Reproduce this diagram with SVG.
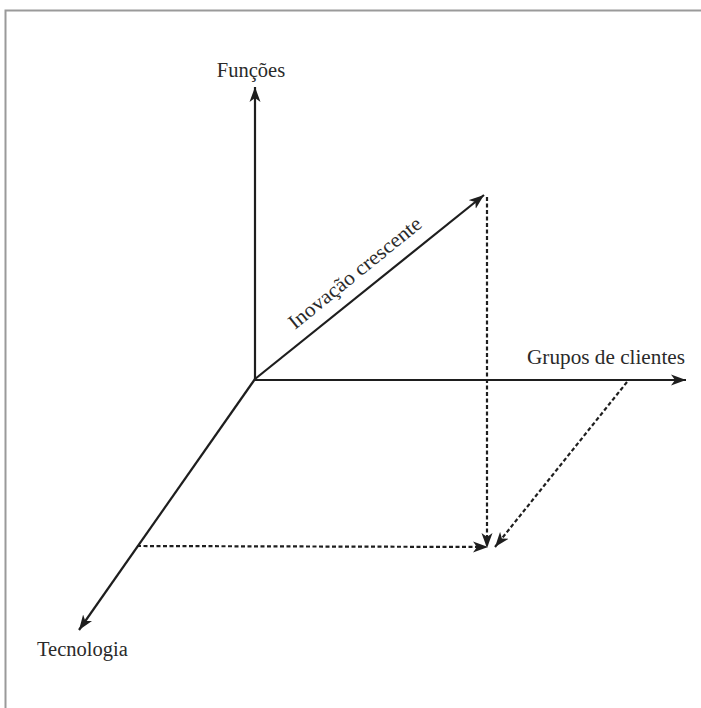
<svg xmlns="http://www.w3.org/2000/svg" width="701" height="708" viewBox="0 0 701 708">
<defs>
<style>
.ax{stroke:#1e1e1e;stroke-width:2.2;fill:none}
.ds{stroke:#1e1e1e;stroke-width:2.2;fill:none;stroke-dasharray:4 2.5}
.lb{font-family:"Liberation Serif","Times New Roman",serif;font-size:20.5px;fill:#2a2a2a}
</style>
<marker id="ah" markerUnits="userSpaceOnUse" markerWidth="16" markerHeight="12" refX="15" refY="6" orient="auto">
<path d="M0,0.5 L15,6 L0,11.5 L4,6 Z" fill="#1e1e1e"/>
</marker>
</defs>
<rect x="0" y="0" width="701" height="708" fill="#ffffff"/>
<path d="M5.5,708 L5.5,10.5 L701,10.5" stroke="#9a9a9a" stroke-width="2" fill="none"/>
<g id="connectors">
<line class="ax" x1="255" y1="380" x2="255" y2="87" marker-end="url(#ah)"/>
<line class="ax" x1="254" y1="380" x2="686" y2="380" marker-end="url(#ah)"/>
<line class="ax" x1="255" y1="379" x2="484" y2="195" marker-end="url(#ah)"/>
<line class="ax" x1="255" y1="379" x2="79" y2="630" marker-end="url(#ah)"/>
<line class="ds" x1="487" y1="197" x2="487" y2="548" marker-end="url(#ah)"/>
<line class="ds" x1="627" y1="382" x2="495" y2="547" marker-end="url(#ah)"/>
<line class="ds" x1="137" y1="546" x2="488" y2="547" marker-end="url(#ah)"/>
</g>
<g id="funcoes"><text class="lb" x="251" y="77" text-anchor="middle">Funções</text></g>
<g id="grupos"><text class="lb" x="527" y="364" textLength="158" lengthAdjust="spacingAndGlyphs">Grupos de clientes</text></g>
<g id="tecnologia"><text class="lb" x="37" y="656">Tecnologia</text></g>
<g id="inovacao"><text class="lb" transform="translate(295,330) rotate(-39)" textLength="165" lengthAdjust="spacingAndGlyphs">Inovação crescente</text></g>
</svg>
